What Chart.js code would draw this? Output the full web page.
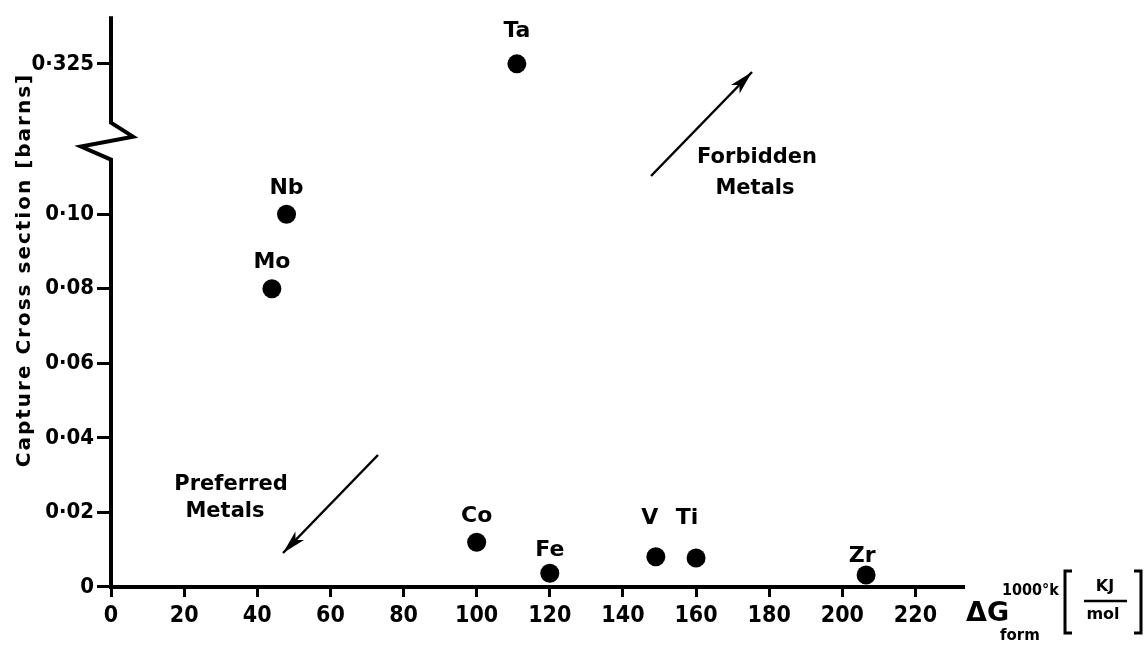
<!DOCTYPE html>
<html>
<head>
<meta charset="utf-8">
<script src="https://cdn.jsdelivr.net/npm/chart.js@4.4.1/dist/chart.umd.min.js"></script>
<style>
  html, body { margin: 0; padding: 0; background: #fff; }
  canvas { display: block; }
</style>
</head>
<body>
<canvas id="chart" width="1148" height="646"></canvas>
<script>
// capture cross section of metals vs. free energy of oxide formation
const metals = ["Ta", "Nb", "Mo", "Co", "Fe", "V", "Ti", "Zr"];
const deltaG = [111, 48, 44, 100, 120, 149, 160, 206.5];
const crossSection = [0.325, 0.10, 0.08, 0.012, 0.0037, 0.0081, 0.0078, 0.0032];

const xTicks = [0, 20, 40, 60, 80, 100, 120, 140, 160, 180, 200, 220];
const yLowTicks = [0, 0.02, 0.04, 0.06, 0.08, 0.10];
const yHighTicks = [0.325];

// anything above this goes on the upper part of the broken axis
const BREAK_AT = 0.2;

const NARROW = '"Liberation Sans Narrow", "DejaVu Sans Condensed", sans-serif';
const WIDE = '"DejaVu Sans", sans-serif';

function pointsWhere(test) {
    let pts = [];
    metals.forEach(function(m, i) {
        if (test(crossSection[i])) pts.push({ x: deltaG[i], y: crossSection[i], name: m });
    });
    return pts;
}

function fmt(v) {
    if (v === 0) return "0";
    let s = v >= 0.2 ? v.toFixed(3) : v.toFixed(2);
    return s.replace(".", "\u00b7");
}

// small nudges for the element labels, as drawn in the figure
const labelLift = { Ta: 33, V: 39, Ti: 40, Zr: 19, Fe: 23 };
const labelShift = { V: -6, Ti: -9, Zr: -4 };

const decorations = {
    id: "decorations",
    afterDatasetsDraw(chart) {
        const ctx = chart.ctx;
        const yLow = chart.scales.y;
        const ax = chart.chartArea.left;
        const t = yLow.top;

        ctx.save();
        ctx.strokeStyle = "#000";
        ctx.fillStyle = "#000";

        // broken y axis with the zig-zag
        ctx.lineWidth = 4;
        ctx.lineJoin = "miter";
        ctx.beginPath();
        ctx.moveTo(ax, yLow.bottom + 2);
        ctx.lineTo(ax, t + 39);
        ctx.lineTo(ax - 30, t + 26);
        ctx.lineTo(ax + 22, t + 16);
        ctx.lineTo(ax, t + 2);
        ctx.lineTo(ax, chart.chartArea.top);
        ctx.stroke();

        // element labels above the points
        ctx.font = "bold 22px " + WIDE;
        ctx.textAlign = "center";
        ctx.textBaseline = "middle";
        chart.data.datasets.forEach(function(ds, di) {
            const meta = chart.getDatasetMeta(di);
            ds.data.forEach(function(p, j) {
                const el = meta.data[j];
                const lift = labelLift[p.name] || 26;
                const dx = labelShift[p.name] || 0;
                ctx.fillText(p.name, el.x + dx, el.y - lift);
            });
        });

        // arrows
        function arrow(x0, y0, x1, y1) {
            ctx.lineWidth = 2.5;
            ctx.beginPath();
            ctx.moveTo(x0, y0);
            ctx.lineTo(x1, y1);
            ctx.stroke();
            const a = Math.atan2(y1 - y0, x1 - x0);
            const len = 24, half = 6;
            ctx.beginPath();
            ctx.moveTo(x1, y1);
            ctx.lineTo(x1 - len * Math.cos(a) + half * Math.sin(a), y1 - len * Math.sin(a) - half * Math.cos(a));
            ctx.lineTo(x1 - len * 0.75 * Math.cos(a), y1 - len * 0.75 * Math.sin(a));
            ctx.lineTo(x1 - len * Math.cos(a) - half * Math.sin(a), y1 - len * Math.sin(a) + half * Math.cos(a));
            ctx.closePath();
            ctx.fill();
        }
        arrow(651, 176, 752, 72);
        arrow(378, 455, 283, 553);

        ctx.font = "bold 21px " + WIDE;
        ctx.fillText("Forbidden", 757, 158);
        ctx.fillText("Metals", 755, 189);
        ctx.fillText("Preferred", 231, 485);
        ctx.fillText("Metals", 225, 512);

        // y axis title
        ctx.save();
        ctx.translate(25, 270);
        ctx.rotate(-Math.PI / 2);
        ctx.font = "bold 20px " + WIDE;
        ctx.letterSpacing = "2px";
        ctx.fillText("Capture Cross section [barns]", 0, 0);
        ctx.restore();

        // x axis title: dG_form at 1000K [KJ/mol]
        ctx.textAlign = "left";
        ctx.font = "bold 27px " + WIDE;
        ctx.fillText("\u0394G", 966, 614);
        ctx.font = "bold 15px " + WIDE;
        ctx.fillText("form", 1000, 636);
        ctx.font = "bold 16px " + NARROW;
        ctx.fillText("1000\u00b0k", 1002, 591);
        ctx.textAlign = "center";
        ctx.font = "bold 16px " + WIDE;
        ctx.fillText("KJ", 1105, 587);
        ctx.fillText("mol", 1103, 615);
        ctx.lineWidth = 2.5;
        ctx.beginPath();
        ctx.moveTo(1084, 601);
        ctx.lineTo(1127, 601);
        ctx.stroke();
        ctx.lineWidth = 3;
        ctx.beginPath();
        ctx.moveTo(1072, 571); ctx.lineTo(1065, 571); ctx.lineTo(1065, 633); ctx.lineTo(1072, 633);
        ctx.moveTo(1134, 571); ctx.lineTo(1141, 571); ctx.lineTo(1141, 633); ctx.lineTo(1134, 633);
        ctx.stroke();

        ctx.restore();
    }
};

const tickFont = { family: NARROW, weight: "bold", size: 22 };

new Chart(document.getElementById("chart").getContext("2d"), {
    type: "scatter",
    data: {
        datasets: [
            {
                data: pointsWhere(v => v < BREAK_AT),
                yAxisID: "y",
                backgroundColor: "#000",
                borderWidth: 0,
                pointRadius: 9.5,
                clip: false
            },
            {
                data: pointsWhere(v => v >= BREAK_AT),
                yAxisID: "yTop",
                backgroundColor: "#000",
                borderWidth: 0,
                pointRadius: 9.5,
                clip: false
            }
        ]
    },
    options: {
        responsive: false,
        animation: false,
        events: [],
        layout: { padding: { top: 13, right: 185, left: 0, bottom: 0 } },
        plugins: { legend: { display: false }, tooltip: { enabled: false } },
        scales: {
            x: {
                type: "linear",
                position: "bottom",
                min: 0,
                max: 233,
                afterBuildTicks: s => { s.ticks = xTicks.map(v => ({ value: v })); },
                afterFit: s => { s.height = 59; },
                ticks: { color: "#000", font: { family: NARROW, weight: "bold", size: 23 }, padding: 5, maxRotation: 0, callback: v => String(v) },
                grid: { drawOnChartArea: false, tickLength: 10, lineWidth: 3, color: "#000" },
                border: { display: true, width: 4, color: "#000" }
            },
            y: {
                type: "linear",
                position: "left",
                stack: "cs",
                stackWeight: 469,
                min: 0,
                max: 0.1251,
                afterBuildTicks: s => { s.ticks = yLowTicks.map(v => ({ value: v })); },
                afterFit: s => { s.width = 111; },
                ticks: { color: "#000", font: tickFont, padding: 3, callback: v => fmt(v) },
                grid: { drawOnChartArea: false, tickLength: 14, lineWidth: 3, color: "#000" },
                border: { display: false }
            },
            yTop: {
                type: "linear",
                position: "left",
                stack: "cs",
                stackWeight: 105,
                min: 0.30,
                max: 0.346,
                afterBuildTicks: s => { s.ticks = yHighTicks.map(v => ({ value: v })); },
                afterFit: s => { s.width = 111; },
                ticks: { color: "#000", font: tickFont, padding: 3, callback: v => fmt(v) },
                grid: { drawOnChartArea: false, tickLength: 14, lineWidth: 3, color: "#000" },
                border: { display: false }
            }
        }
    },
    plugins: [decorations]
});
</script>
</body>
</html>
